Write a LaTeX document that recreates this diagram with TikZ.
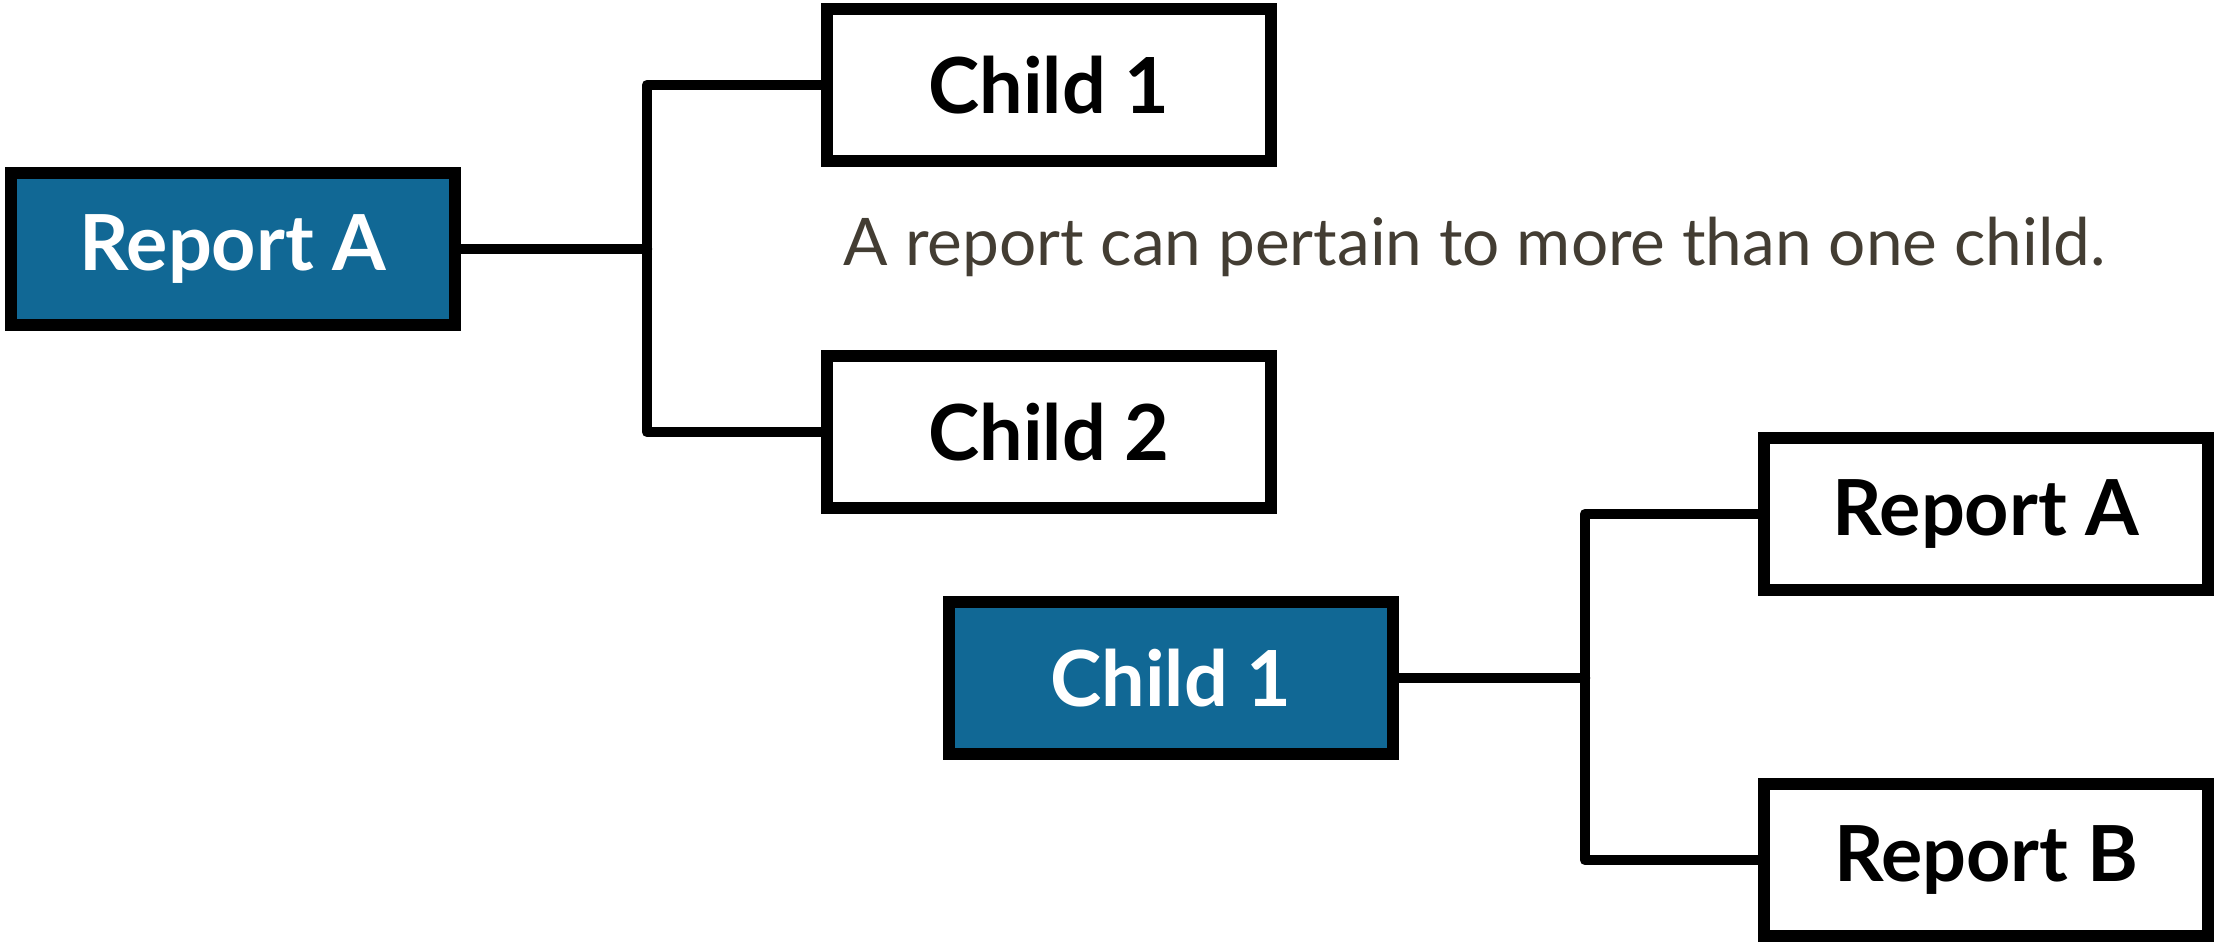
\documentclass[tikz,border=0pt]{standalone}
\usepackage{fontspec}
\setmainfont{Lato}
\definecolor{boxblue}{RGB}{17,104,149}
\definecolor{notegray}{RGB}{67,61,51}
\tikzset{
  entity/.style={draw=black, line width=3.4pt, minimum width=4.44cm, minimum height=1.52cm,
    inner sep=0pt, font=\bfseries\fontsize{22}{26}\selectfont},
  parent/.style={entity, fill=boxblue, text=white},
  child/.style={entity, fill=white},
  link/.style={line width=3pt, line join=round, line cap=round},
  note/.style={inner sep=0pt, text=notegray, font=\fontsize{18.7}{22}\selectfont}
}
\newcommand{\drawlink}{\draw[link]}

\begin{document}
\begin{tikzpicture}
\useasboundingbox (0,0) rectangle (22.15,9.47);
% one report, many children
\node[parent] (repA) at (2.33,6.98) {Report A};
\node[child] (childI) at (10.49,8.62) {Child 1};
\node[child] (childII) at (10.49,5.15) {Child 2};
\coordinate (jA) at (6.47,6.98);
\drawlink (repA.east) -- (jA);
\drawlink (childI.west) -| (jA) |- (childII.west);
\node[note, anchor=west] (note) at (8.43,7.00) {A report can pertain to more than one child.};
% one child, many reports
\node[parent] (kid) at (11.71,2.69) {Child 1};
\node[child] (repAA) at (19.86,4.33) {Report A};
\node[child] (repB) at (19.86,0.87) {Report B};
\coordinate (jB) at (15.85,2.69);
\drawlink (kid.east) -- (jB);
\drawlink (repAA.west) -| (jB) |- (repB.west);
\end{tikzpicture}
\end{document}
